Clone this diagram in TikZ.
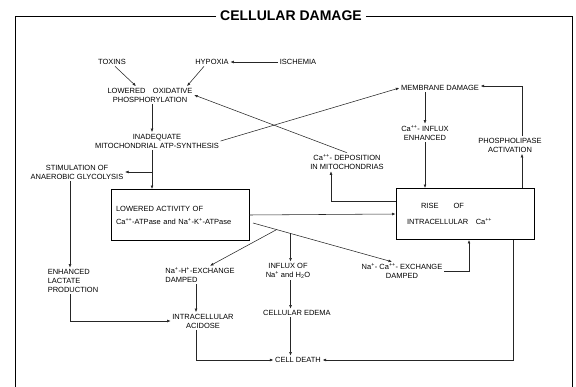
\documentclass[tikz,border=0pt]{standalone}
\usepackage{fontspec}
\setmainfont{Liberation Sans}
\usetikzlibrary{arrows.meta}

\tikzset{
  lbl/.style={font=\fontsize{7.5}{9}\selectfont, align=center, inner sep=1.5pt},
  lblleft/.style={lbl, align=left},
  cabox/.style={draw, line width=0.9pt, font=\fontsize{7.5}{9}\selectfont,
    align=left, text width=128pt, inner xsep=5pt, minimum height=51pt},
  flow/.style={->, line width=0.55pt, draw=black!85},
}

\begin{document}
\begin{tikzpicture}[x=1pt, y=-1pt, >={Latex[length=3.5pt,width=2.8pt]}]
\useasboundingbox (0,0) rectangle (576,387);

% title and frame
\node[font=\fontsize{14}{16}\selectfont\bfseries, inner sep=4pt] (title) at (291,16) {CELLULAR DAMAGE};
\draw[line width=0.9pt] (title.west) -- (15,16) -- (15,387);
\draw[line width=0.9pt] (title.east) -- (572,16) -- (572,387);

% causes
\node[lbl] (tox) at (112,62) {TOXINS};
\node[lbl] (hyp) at (212,62) {HYPOXIA};
\node[lbl] (isch) at (298,62) {ISCHEMIA};
\node[lbl] (oxph) at (150,95) {LOWERED\quad OXIDATIVE\\PHOSPHORYLATION};
\node[lbl] (atp) at (157,141) {INADEQUATE\\MITOCHONDRIAL ATP-SYNTHESIS};
\node[lbl] (glyc) at (77,172) {STIMULATION OF\\ANAEROBIC GLYCOLYSIS};
\node[lblleft] (lact) at (73,281) {ENHANCED\\LACTATE\\PRODUCTION};

% the two boxes
\node[cabox] (atpase) at (180,215) {LOWERED ACTIVITY OF\\[4pt]Ca\textsuperscript{++}-ATPase and Na\textsuperscript{+}-K\textsuperscript{+}-ATPase};
\node[cabox] (rise) at (465,214) {\hspace*{20pt}RISE\qquad OF\\[7pt]\hspace*{6pt}INTRACELLULAR\quad Ca\textsuperscript{++}};

% upper right
\node[lbl] (memb) at (440,88) {MEMBRANE DAMAGE};
\node[lbl] (influx) at (425,133) {Ca\textsuperscript{++}- INFLUX\\ENHANCED};
\node[lbl] (phos) at (510,145) {PHOSPHOLIPASE\\ACTIVATION};
\node[lbl] (depo) at (347,162) {Ca\textsuperscript{++}- DEPOSITION\\IN MITOCHONDRIAS};

% lower part
\node[lblleft] (nah) at (200,275) {Na\textsuperscript{+}-H\textsuperscript{+}-EXCHANGE\\DAMPED};
\node[lbl] (nain) at (288,271) {INFLUX OF\\Na\textsuperscript{+} and H\textsubscript{2}O};
\node[lbl] (naca) at (402,271) {Na\textsuperscript{+}- Ca\textsuperscript{++}- EXCHANGE\\DAMPED};
\node[lbl] (acid) at (203,321) {INTRACELLULAR\\ACIDOSE};
\node[lbl] (edema) at (297,313) {CELLULAR EDEMA};
\node[lbl] (death) at (298,360) {CELL DEATH};

\coordinate (br1) at (152,172);
\coordinate (c1) at (196,0);
\coordinate (c2) at (522,0);
\coordinate (c3) at (331,0);
\coordinate (fan) at (253,223);

% connectors
\draw[flow] (isch) -- (hyp);
\draw[flow] ([xshift=3pt]tox.south) -- ([xshift=-14pt]oxph.north);
\draw[flow] ([xshift=-8pt]hyp.south) -- ([xshift=37pt]oxph.north);
\draw[flow] ([xshift=2pt]oxph.south) -- (atp.north -| br1);
\draw[flow] (atp.south -| br1) -- (atpase.north -| br1);
\draw[flow] (br1) -- (glyc.east);
\draw[flow] ([xshift=-3pt]lact.north |- glyc.south) -- ([xshift=-3pt]lact.north);
\draw[flow] ([xshift=-3pt]lact.south) |- (acid.west);
\draw[flow] (atpase.east) -- (rise.west);
\draw[flow] (fan) -- coordinate[pos=0.17] (f1) coordinate[pos=0.27] (f2) ([xshift=-10pt]naca.north);
\draw[flow] (f1) -- ([xshift=10pt]nah.north);
\draw[flow] (f2) -- (f2 |- nain.north);
\draw[flow] (naca.east) -| ([xshift=4pt]rise.south);
\draw[flow] (nah.south -| c1) -- (acid.north -| c1);
\draw[flow] (acid.south -| c1) |- (death.west);
\draw[flow] (nain.south -| f2) -- (edema.north -| f2);
\draw[flow] (edema.south -| f2) -- (death.north -| f2);
\draw[flow] ([xshift=48pt]rise.south) |- (death.east);
\draw[flow] (memb.south -| influx) -- (influx.north);
\draw[flow] (influx.south) -- (rise.north -| influx.south);
\draw[flow] (rise.north -| c2) -- (phos.south -| c2);
\draw[flow] (phos.north -| c2) |- ([yshift=2pt]memb.east);
\draw[flow] ([yshift=13pt]rise.west) -| (depo.south -| c3);
\draw[flow] (atp.east) -- (memb.west);
\draw[flow] (depo.north) -- (oxph.east);
\end{tikzpicture}
\end{document}
